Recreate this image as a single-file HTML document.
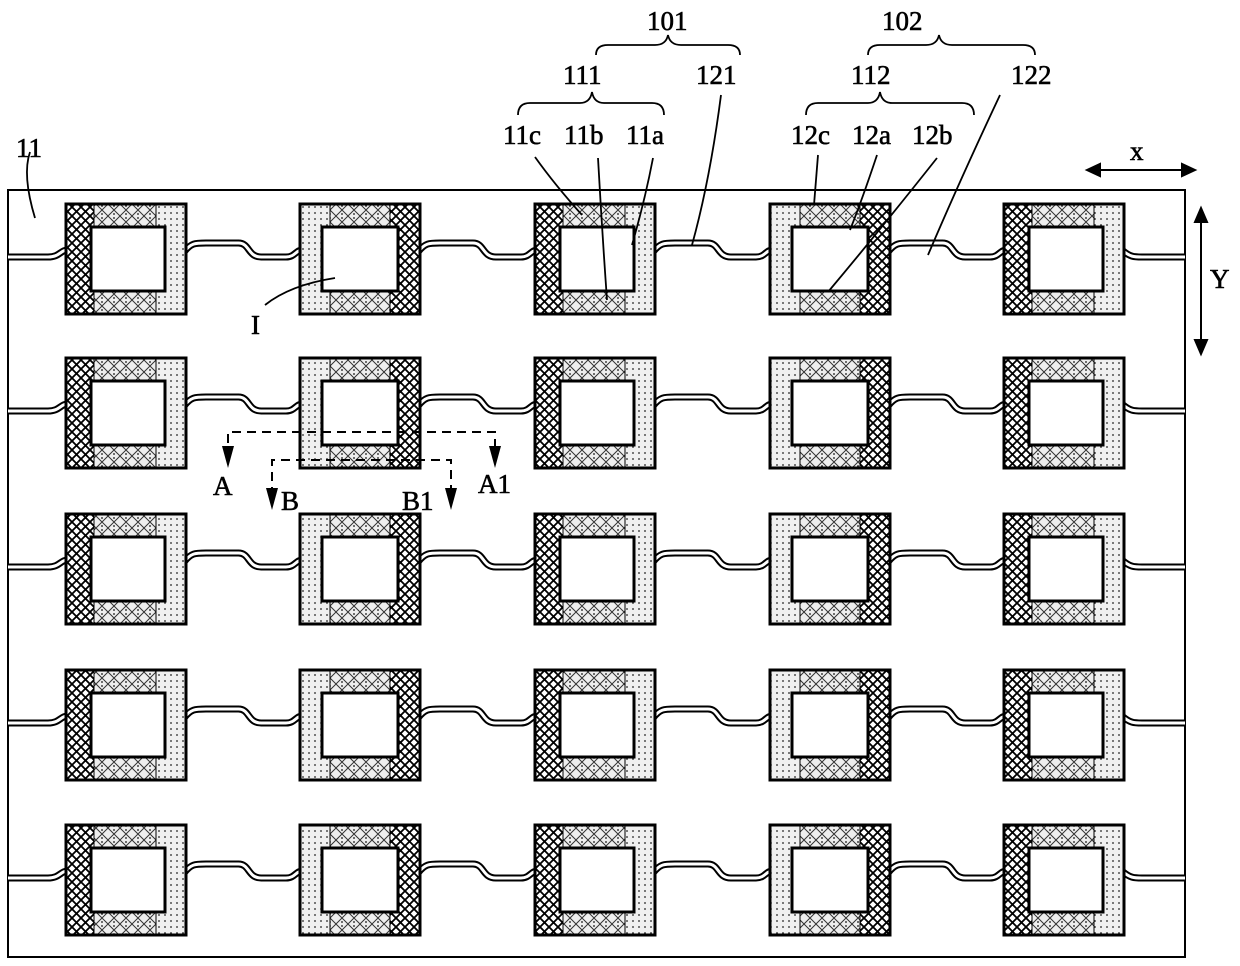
<!DOCTYPE html>
<html><head><meta charset="utf-8"><style>
html,body{margin:0;padding:0;background:#fff}
svg{display:block}
text{font-family:"Liberation Serif",serif;font-size:27px;fill:#000;stroke:#000;stroke-width:0.6}
</style></head><body>
<svg id="s" width="1240" height="966" viewBox="0 0 1240 966" xmlns="http://www.w3.org/2000/svg">
<defs>
<pattern id="hatch" width="9" height="9" patternUnits="userSpaceOnUse">
<rect width="9" height="9" fill="#fff"/>
<path d="M0,0L9,9M9,0L0,9" stroke="#000" stroke-width="1.8"/>
</pattern>
<pattern id="dots" width="6" height="6" patternUnits="userSpaceOnUse">
<rect width="6" height="6" fill="#f0f0f0"/>
<circle cx="3" cy="3" r="0.9" fill="#222"/>
</pattern>
<pattern id="hd" width="12" height="12" patternUnits="userSpaceOnUse">
<rect width="12" height="12" fill="#eee"/>
<path d="M0,0L12,12M12,0L0,12" stroke="#333" stroke-width="1"/>
<circle cx="6" cy="2" r="0.9" fill="#111"/><circle cx="6" cy="10" r="0.9" fill="#111"/>
</pattern>
</defs>
<rect x="8" y="190" width="1177" height="767" fill="#fff" stroke="#000" stroke-width="2"/>
<g id="conn"></g>
<g id="cells"></g>

<g stroke="#000" stroke-width="2" fill="none" stroke-dasharray="9,6">
<path d="M228,458V432H495V458"/>
<path d="M272,496V460H451V496"/>
</g>
<g fill="#000">
<path d="M222,446L234,446L228,468Z"/>
<path d="M489,446L501,446L495,468Z"/>
<path d="M266,488L278,488L272,510Z"/>
<path d="M445,488L457,488L451,510Z"/>
</g>
<text x="213" y="495">A</text>
<text x="478" y="493">A1</text>
<text x="281" y="510">B</text>
<text x="402" y="510">B1</text>

<g stroke="#000" stroke-width="2" fill="#000">
<path d="M1096,170H1186"/>
<path d="M1087,170L1100,164L1100,176Z"/>
<path d="M1195,170L1182,164L1182,176Z"/>
<path d="M1201,220V342"/>
<path d="M1201,208L1195,222L1207,222Z"/>
<path d="M1201,354L1195,340L1207,340Z"/>
</g>
<text x="1130" y="160">x</text>
<text x="1210" y="288">Y</text>

<g stroke="#000" stroke-width="1.8" fill="none">
<path d="M596,55Q596,45 608,45H655Q666,45 668,35Q670,45 681,45H728Q740,45 740,55"/>
<path d="M518,115Q518,103 530,103H580Q590,103 592,92Q594,103 604,103H652Q664,103 664,115"/>
<path d="M868,55Q868,45 880,45H926Q937,45 939,35Q941,45 952,45H1023Q1035,45 1035,55"/>
<path d="M806,115Q806,103 818,103H868Q878,103 880,92Q882,103 892,103H962Q974,103 974,115"/>
<path d="M535,157Q555,185 582,215"/>
<path d="M598,158Q602,230 607,300"/>
<path d="M653,158Q645,200 632,245"/>
<path d="M721,95Q710,180 692,245"/>
<path d="M818,155Q816,180 814,205"/>
<path d="M877,155Q862,200 850,230"/>
<path d="M937,158Q880,230 828,292"/>
<path d="M1000,95Q960,180 928,255"/>
<path d="M30,152Q22,175 35,218" />
<path d="M265,305Q290,285 335,278"/>
</g>
<text x="647" y="30">101</text>
<text x="882" y="30">102</text>
<text x="563" y="84">111</text>
<text x="696" y="84">121</text>
<text x="851" y="84">112</text>
<text x="1011" y="84">122</text>
<text x="503" y="144">11c</text>
<text x="564" y="144">11b</text>
<text x="626" y="144">11a</text>
<text x="791" y="144">12c</text>
<text x="852" y="144">12a</text>
<text x="912" y="144">12b</text>
<text x="16" y="157">11</text>
<text x="251" y="334">I</text>
</svg>
<script>
var NS="http://www.w3.org/2000/svg";
function el(p,t,a){var e=document.createElementNS(NS,t);for(var k in a)e.setAttribute(k,a[k]);p.appendChild(e);return e;}
var cells=document.getElementById("cells"),conn=document.getElementById("conn");
var rows=[204,358,514,670,825],cols=[66,300,535,770,1004],W=120,H=110;
rows.forEach(function(y){
  var paths=[];
  paths.push("M8,"+(y+53)+" L48,"+(y+53)+" C60,"+(y+53)+" 60,"+(y+46)+" 68,"+(y+46));
  for(var i=0;i<4;i++){
    var a=cols[i]+W,b=cols[i+1];
    var L=b-a;
    paths.push("M"+(a-2)+","+(y+48)+" C"+(a+5)+","+(y+39)+" "+(a+9)+","+(y+39)+" "+(a+20)+","+(y+39)+
      " L"+(a+L*0.46)+","+(y+39)+" C"+(a+L*0.56)+","+(y+39)+" "+(a+L*0.54)+","+(y+53)+" "+(a+L*0.66)+","+(y+53)+
      " L"+(b-14)+","+(y+53)+" C"+(b-5)+","+(y+53)+" "+(b-4)+","+(y+46)+" "+(b+2)+","+(y+46));
  }
  var e=1124;
  paths.push("M"+(e-2)+","+(y+46)+" C"+(e+6)+","+(y+53)+" "+(e+10)+","+(y+53)+" "+(e+18)+","+(y+53)+" L1185,"+(y+53));
  paths.forEach(function(d){
    el(conn,"path",{d:d,stroke:"#000","stroke-width":7,fill:"none"});
    el(conn,"path",{d:d,stroke:"#fff","stroke-width":3,fill:"none"});
  });
  cols.forEach(function(x,ci){
    var A=(ci%2==0);
    el(cells,"rect",{x:x,y:y,width:W,height:H,fill:"url(#hd)"});
    if(A){
      el(cells,"rect",{x:x,y:y,width:28,height:H,fill:"url(#hatch)",stroke:"#000","stroke-width":1});
      el(cells,"rect",{x:x+90,y:y,width:30,height:H,fill:"url(#dots)",stroke:"#000","stroke-width":1});
      el(cells,"rect",{x:x+25,y:y+23,width:74,height:64,fill:"#fff",stroke:"#000","stroke-width":3});
    }else{
      el(cells,"rect",{x:x,y:y,width:30,height:H,fill:"url(#dots)",stroke:"#000","stroke-width":1});
      el(cells,"rect",{x:x+90,y:y,width:30,height:H,fill:"url(#hatch)",stroke:"#000","stroke-width":1});
      el(cells,"rect",{x:x+22,y:y+23,width:76,height:64,fill:"#fff",stroke:"#000","stroke-width":3});
    }
    el(cells,"rect",{x:x,y:y,width:W,height:H,fill:"none",stroke:"#000","stroke-width":3});
  });
});
</script>
</body></html>
